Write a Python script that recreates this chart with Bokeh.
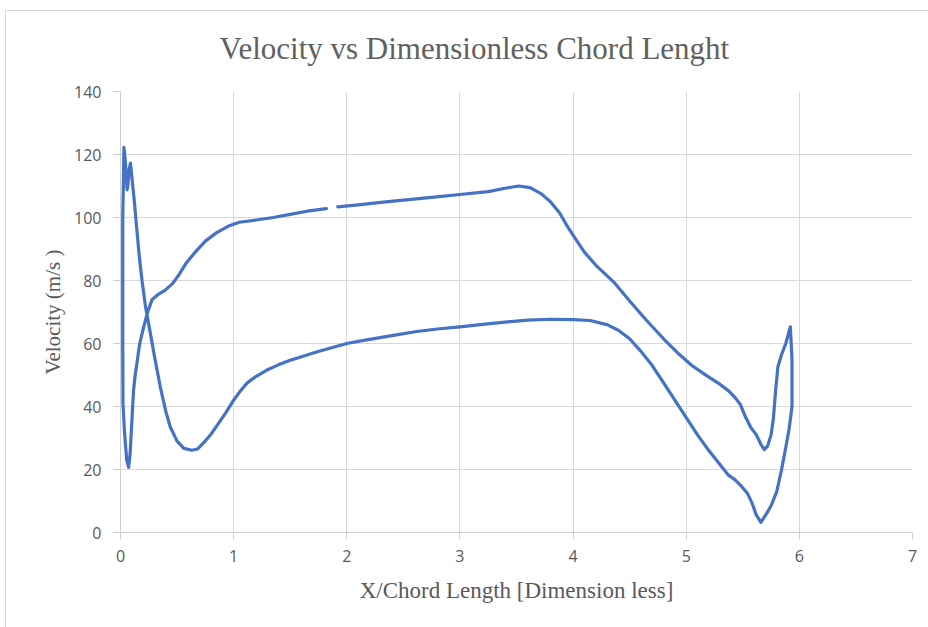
import math
from bokeh.plotting import figure
from bokeh.models import Range1d, FixedTicker
from bokeh.embed import file_html
from bokeh.resources import INLINE

NaN = float("nan")

# X/Chord length (dimensionless) along the traced velocity path
x_chord = [0.03, 0.025, 0.02, 0.02, 0.022, 0.035, 0.055, 0.072, 0.085, 0.10, 0.115,
           0.13, 0.17, 0.21, 0.24, 0.28, 0.33, 0.39, 0.46, 0.52, 0.58, 0.66, 0.75,
           0.85, 0.95, 1.05, 1.2, 1.35, 1.5, 1.65, 1.82, NaN, 1.92, 2.1, 2.3, 2.5,
           2.75, 3.0, 3.25, 3.4, 3.52, 3.62, 3.72, 3.8, 3.88, 3.95, 4.02, 4.1, 4.2,
           4.36, 4.5, 4.65, 4.8, 4.94, 5.05, 5.18, 5.3, 5.38, 5.44, 5.48, 5.52, 5.57,
           5.62, 5.66, 5.69, 5.72, 5.75, 5.77, 5.79, 5.81, 5.84, 5.88, 5.92, 5.935,
           5.935, 5.91, 5.88, 5.84, 5.80, 5.75, 5.71, 5.66, 5.62, 5.58, 5.54, 5.48,
           5.43, 5.37, 5.30, 5.20, 5.10, 5.00, 4.90, 4.80, 4.70, 4.60, 4.50, 4.40,
           4.30, 4.15, 4.00, 3.80, 3.60, 3.40, 3.20, 3.00, 2.80, 2.62, 2.45, 2.32,
           2.15, 2.00, 1.85, 1.74, 1.60, 1.50, 1.40, 1.29, 1.20, 1.12, 1.05, 1.00,
           0.93, 0.86, 0.80, 0.74, 0.68, 0.63, 0.56, 0.50, 0.44, 0.40, 0.35, 0.30,
           0.26, 0.22, 0.19, 0.165, 0.14, 0.12, 0.10, 0.088, 0.075, 0.065, 0.058,
           0.05, 0.04, 0.03]

# Velocity (m/s)
velocity = [122.3, 110, 100, 60, 40.8, 32, 23, 20.7, 25, 35, 45,
            50, 60, 66, 70, 74, 75.5, 76.8, 79, 82, 85.5, 89, 92.5,
            95.2, 97.2, 98.5, 99.2, 100, 101, 102, 102.8, NaN, 103.4, 104, 104.8, 105.5,
            106.4, 107.3, 108.2, 109.3, 110, 109.5, 107.5, 105, 101.5, 97.2, 93.3, 89, 84.9,
            79.5, 73.5, 67.3, 61.5, 56.5, 53, 49.8, 47, 44.8, 42.5, 40.5, 37, 33.4,
            31, 28, 26.3, 27.5, 31, 36, 45, 52.5, 56.2, 60, 65.3, 55,
            40, 33, 27, 19.5, 13, 8.5, 6, 3.2, 5.5, 9.5, 12.5, 15,
            16.8, 18.3, 21.5, 26, 31, 36.5, 42, 47.5, 53, 57.5, 61.5, 64.2,
            66, 67.3, 67.6, 67.7, 67.4, 66.8, 66.1, 65.3, 64.6, 63.8, 62.8, 62,
            61, 60, 58.5, 57.4, 55.8, 54.7, 53.3, 51.5, 49.6, 47.5, 44.5, 42,
            38, 34.3, 31.2, 28.7, 26.5, 26.1, 26.7, 29, 33.5, 38.5, 46.5, 56,
            64, 72, 80, 88, 98, 106, 113, 117.3, 115, 110, 108.8,
            114, 119, 122.3]

x_ticks = [0, 1, 2, 3, 4, 5, 6, 7]
y_ticks = [0, 20, 40, 60, 80, 100, 120, 140]

title_text = "Velocity vs Dimensionless Chord Lenght"
x_title = "X/Chord Length [Dimension less]"
y_title = "Velocity (m/s )"

TXT = "#595959"
GRID = "#d9d9d9"

chart_frame_bg = ("linear-gradient(#d9d9d9, #d9d9d9) 0px 10px / 100% 1px no-repeat, "
                  "linear-gradient(#d9d9d9, #d9d9d9) 0px 10px / 1px 100% no-repeat, white")

p = figure(width=923, height=627, output_backend="svg", toolbar_location=None,
           x_range=Range1d(0, 7), y_range=Range1d(0, 140),
           min_border_left=115, min_border_right=16, min_border_top=91,
           min_border_bottom=95, margin=(0, 0, 0, 5),
           styles={"background": chart_frame_bg},
           background_fill_color="white", border_fill_alpha=0,
           title=title_text)
p.outline_line_color = None

p.title.align = "left"
p.title.offset = 99
p.title.text_font = "Liberation Serif"
p.title.text_font_size = "31px"
p.title.text_font_style = "normal"
p.title.text_color = "#606060"
p.title.standoff = 52

p.line(x_chord, velocity, line_color="#4472C4", line_width=3.2,
       line_join="round", line_cap="round")

for ax in (p.xaxis[0], p.yaxis[0]):
    ax.axis_line_color = "#cfcfcf"
    ax.major_tick_line_color = "#cfcfcf"
    ax.minor_tick_line_color = None
    ax.major_tick_in = 0
    ax.major_tick_out = 7
    ax.major_label_text_font = "Open Sans"
    ax.major_label_text_font_size = "16px"
    ax.major_label_text_color = TXT
    ax.axis_label_text_font = "Liberation Serif"
    ax.axis_label_text_font_style = "normal"
    ax.axis_label_text_color = TXT

p.xaxis[0].ticker = FixedTicker(ticks=x_ticks)
p.yaxis[0].ticker = FixedTicker(ticks=y_ticks)
p.xaxis[0].major_label_standoff = 10
p.yaxis[0].major_label_standoff = 12
p.xaxis[0].axis_label = x_title
p.yaxis[0].axis_label = y_title
p.xaxis[0].axis_label_text_font_size = "23px"
p.yaxis[0].axis_label_text_font_size = "21px"
p.xaxis[0].axis_label_standoff = 13
p.yaxis[0].axis_label_standoff = 6

p.xgrid.grid_line_color = GRID
p.ygrid.grid_line_color = GRID
p.xgrid.ticker = FixedTicker(ticks=x_ticks)
p.ygrid.ticker = FixedTicker(ticks=y_ticks)

open("out.html", "w").write(file_html(p, INLINE))
